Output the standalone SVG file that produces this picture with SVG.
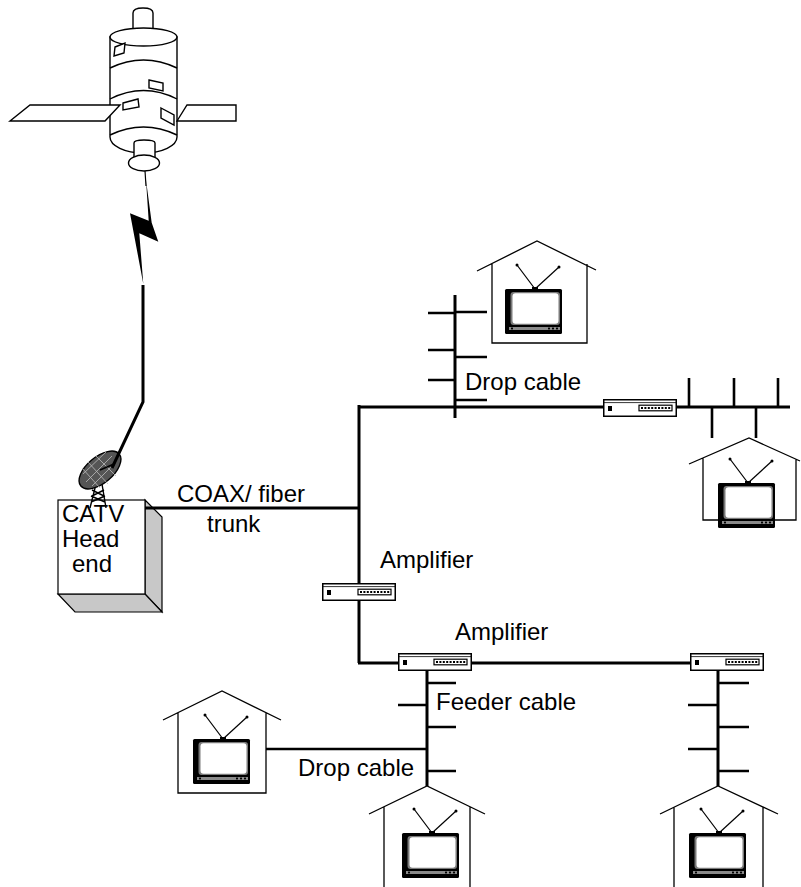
<svg xmlns="http://www.w3.org/2000/svg" xmlns:xlink="http://www.w3.org/1999/xlink" width="801" height="887" viewBox="0 0 801 887">
  <style>
    .cable{stroke:#000;stroke-width:3;fill:none}
    .stub{stroke:#000;stroke-width:2.6;fill:none}
    .house{fill:none;stroke:#000;stroke-width:1.3}
    .ln{fill:none;stroke:#000;stroke-width:1.4}
    .wfill{fill:#fff;stroke:#000;stroke-width:1.4}
    .label{font-family:"Liberation Sans",Arial,Helvetica,sans-serif;font-size:24px;fill:#000}
  </style>
  <defs>
    <!-- line amplifier, 74 x 18 -->
    <g id="amp">
      <rect x="0.75" y="0.75" width="72.5" height="16.5" fill="#fff" stroke="#000" stroke-width="1.5"/>
      <line x1="1" y1="3.6" x2="73" y2="3.6" stroke="#000" stroke-width="0.8"/>
      <rect x="5" y="7" width="4" height="5" fill="#000"/>
      <rect x="36" y="6.2" width="33" height="5.6" fill="#fff" stroke="#000" stroke-width="1.2"/>
      <line x1="38" y1="9" x2="67.5" y2="9" stroke="#000" stroke-width="2" stroke-dasharray="2 1.4"/>
    </g>
    <!-- television set with rabbit-ear antenna, origin at top-left of the cabinet -->
    <g id="tv">
      <line x1="30" y1="0" x2="12" y2="-24" stroke="#000" stroke-width="1.2"/>
      <line x1="30" y1="0" x2="54" y2="-22" stroke="#000" stroke-width="1.2"/>
      <circle cx="12" cy="-24" r="1.5" fill="#000"/>
      <circle cx="54" cy="-22" r="1.5" fill="#000"/>
      <rect x="27" y="-2" width="6" height="3" fill="#000"/>
      <rect x="0" y="0" width="57" height="45" rx="1.5" fill="#000"/>
      <rect x="5.5" y="3" width="49.5" height="33" rx="3" fill="#7a7a7a"/>
      <rect x="7.5" y="4.2" width="46" height="30.5" rx="3" fill="#fff"/>
      <rect x="4" y="38" width="51" height="3" fill="#8a8a8a"/>
      <rect x="6" y="38.6" width="2" height="1.8" fill="#000"/>
      <rect x="43" y="38.6" width="2" height="1.8" fill="#000"/>
      <rect x="47" y="38.6" width="2" height="1.8" fill="#000"/>
      <rect x="51" y="38.6" width="2" height="1.8" fill="#000"/>
    </g>
  </defs>

  <!-- communications satellite -->
  <g id="satellite">
    <path class="wfill" d="M133,31 V13 Q133,8 143,8 Q153,8 153,13 V31 Z"/>
    <path class="wfill" d="M110,37 V137 A33.5,16 0 0 0 177,137 V37 Z"/>
    <ellipse class="wfill" cx="143.5" cy="37" rx="33.5" ry="9"/>
    <path class="ln" d="M110,68 Q143.5,52 177,68"/>
    <path class="ln" d="M110,99 Q143.5,82 177,99"/>
    <path class="ln" d="M110,135 Q143.5,119 177,135"/>
    <path class="wfill" d="M115,47 L125,43 L124,53 L114,56 Z"/>
    <path class="wfill" d="M149,80 L163,83 L163,91 L149,88 Z"/>
    <path class="wfill" d="M123,103 L138,99 L139,107 L123,110 Z"/>
    <path class="wfill" d="M161,108 L174,115 L174,125 L161,118 Z"/>
    <path class="wfill" d="M10,121 L30,105 L120,105 L105,121 Z"/>
    <path class="wfill" d="M177,121 L187,105 L236,105 L236,121 Z"/>
    <path class="wfill" d="M134,158 V143 Q134,140 144,140 Q155,140 155,143 V158 Z"/>
    <ellipse class="wfill" cx="144" cy="163" rx="15.5" ry="8"/>
    <line x1="145" y1="171" x2="146" y2="186" stroke="#000" stroke-width="1.2"/>
  </g>

  <!-- radio link -->
  <g id="uplink">
    <polygon points="146,180 151.7,222.7 158.3,241.7 139.3,233.3 143.3,284 130,213.3 148.7,220.7" fill="#000"/>
  </g>

  <!-- head-end equipment -->
  <g id="headend">
    <polygon points="145,500 162,517 162,612 145,594" fill="#c8c8c8" stroke="#000" stroke-width="1.2"/>
    <polygon points="58,594 145,594 162,612 75,612" fill="#c8c8c8" stroke="#000" stroke-width="1.2"/>
    <rect x="58" y="500" width="87" height="94" fill="#fff" stroke="#000" stroke-width="1.2"/>
    <text class="label" x="62" y="522">CATV</text>
    <text class="label" x="62" y="547">Head</text>
    <text class="label" x="72" y="572">end</text>
  </g>
  <g id="dish">
    <path class="ln" d="M90,508 L96,484 M106,508 L102,484 M91,502 L105,496 M92,496 L104,490 M105,502 L91,496 M104,496 L92,490" stroke-width="1.2"/>
    <ellipse cx="100" cy="470" rx="25" ry="13" transform="rotate(-40 100 470)" fill="#555" stroke="#000" stroke-width="1.4"/>
    <path d="M86,482 L112,456 M83,474 L106,452 M92,486 L116,462 M88,462 L108,484 M82,468 L100,488 M96,456 L116,476" stroke="#bbb" stroke-width="0.8"/>
    <line x1="100" y1="470" x2="114" y2="464" stroke="#000" stroke-width="1.5"/>
  </g>

  <!-- cables -->
  <g id="connectors">
    <path class="cable" d="M143,285 V402 L112,468" stroke-width="3.5"/>
    <path class="cable" d="M145,508 H359"/>
    <path class="cable" d="M359,405 V663"/>
    <path class="cable" d="M358,407 H603"/>
    <path class="cable" d="M677,407 H790"/>
    <path class="cable" d="M455,295 V418"/>
    <path class="cable" d="M358,663 H398 M472,663 H690"/>
    <path class="cable" d="M427,671 V786"/>
    <path class="cable" d="M718,671 V786"/>
    <!-- top tap -->
    <path class="stub" d="M428,313 H455 M455,312 H487 M428,350 H455 M455,357 H487 M428,380 H455 M455,400 H487"/>
    <!-- right tap -->
    <path class="stub" d="M689,378 V407 M734,378 V407 M778,378 V407 M712,407 V438 M756,407 V438"/>
    <!-- left feeder taps -->
    <path class="stub" d="M427,683 H456 M398,705 H427 M427,727 H456 M266,749 H427 M427,771 H456"/>
    <!-- right feeder taps -->
    <path class="stub" d="M718,683 H749 M688,705 H718 M718,727 H749 M688,749 H718 M718,771 H749"/>
  </g>

  <!-- amplifiers -->
  <g id="amp-trunk"><use href="#amp" xlink:href="#amp" transform="translate(322,583)"/></g>
  <g id="amp-top"><use href="#amp" xlink:href="#amp" transform="translate(603,399)"/></g>
  <g id="amp-feeder-left"><use href="#amp" xlink:href="#amp" transform="translate(398,653)"/></g>
  <g id="amp-feeder-right"><use href="#amp" xlink:href="#amp" transform="translate(690,653)"/></g>

  <!-- subscriber houses -->
  <g id="house-top">
    <path class="house" d="M477,271 L537,241 L596,270 M492,263.5 V343 H587 V264"/>
    <use href="#tv" xlink:href="#tv" transform="translate(505,289)"/>
  </g>
  <g id="house-right">
    <path class="house" d="M689,464 L749,438 L800,461 M703,457.6 V520 H796 V459"/>
    <use href="#tv" xlink:href="#tv" transform="translate(718,483)"/>
  </g>
  <g id="house-left">
    <path class="house" d="M163,720 L222,691 L281,720 M178,712.6 V793 H266 V711.9"/>
    <use href="#tv" xlink:href="#tv" transform="translate(193,739)"/>
  </g>
  <g id="house-bottom-left">
    <path class="house" d="M369,814 L427,786 L485,814 M384,806.8 V887 M470,806.8 V887"/>
    <use href="#tv" xlink:href="#tv" transform="translate(402,833)"/>
  </g>
  <g id="house-bottom-right">
    <path class="house" d="M660,814 L718,786 L778,814 M674,807.2 V887 M763,807 V887"/>
    <use href="#tv" xlink:href="#tv" transform="translate(689,833)"/>
  </g>

  <!-- labels -->
  <g id="labels">
    <text class="label" x="177" y="502">COAX/ fiber</text>
    <text class="label" x="207" y="532">trunk</text>
    <text class="label" x="380" y="568">Amplifier</text>
    <text class="label" x="455" y="640">Amplifier</text>
    <text class="label" x="465" y="390">Drop cable</text>
    <text class="label" x="436" y="710">Feeder cable</text>
    <text class="label" x="298" y="776">Drop cable</text>
  </g>
</svg>
